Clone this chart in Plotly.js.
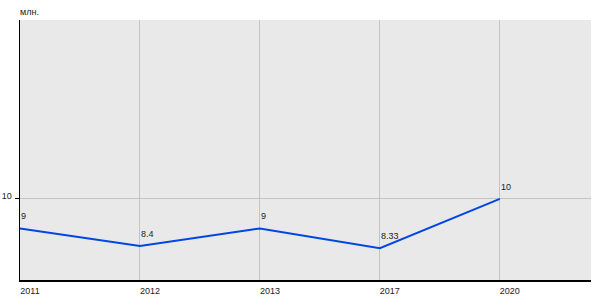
<!DOCTYPE html>
<html><head><meta charset="utf-8">
<script src="https://cdn.plot.ly/plotly-3.0.1.min.js"></script>
<style>html,body{margin:0;padding:0;background:#fff}#chart{width:600px;height:300px}</style>
</head><body><div id="chart"></div>
<script>
const years = ["2011", "2012", "2013", "2017", "2020"];
const values = [9, 8.4, 9, 8.33, 10];
const valueLabels = ["9", "8.4", "9", "8.33", "10"];
const unitLabel = "млн.";
const yTicks = [10];

const font = {family: "Liberation Sans, Arial, sans-serif", size: 9, color: "#1a1a1a"};

const trace = {
  x: years, y: values, type: "scatter", mode: "lines",
  line: {color: "#0046e0", width: 2},
  hoverinfo: "skip"
};

const valueAnnotations = years.map((yr, i) => ({
  x: i, y: values[i], xref: "x", yref: "y", text: valueLabels[i],
  xanchor: "left", yanchor: "bottom", xshift: -1, yshift: 5,
  showarrow: false, font: font
}));

const layout = {
  width: 600, height: 300,
  margin: {l: 20, r: 9, t: 20, b: 20},
  paper_bgcolor: "#ffffff", plot_bgcolor: "#e9e9e9",
  font: font, showlegend: false,
  xaxis: {
    type: "category", range: [0, 4.76],
    showgrid: true, gridcolor: "#c4c4c4", gridwidth: 1,
    showline: true, linecolor: "#000", linewidth: 1.5,
    ticks: "", tickfont: font, ticklabelshift: 10, ticklabelstandoff: 2,
    zeroline: false, fixedrange: true
  },
  yaxis: {
    range: [7.25, 16.07],
    tickvals: yTicks, ticktext: yTicks.map(String),
    showgrid: true, gridcolor: "#c4c4c4", gridwidth: 1,
    showline: true, linecolor: "#000", linewidth: 1.5,
    ticks: "outside", ticklen: 4, tickcolor: "#000",
    tickfont: font, ticklabelstandoff: 1, ticklabelshift: -3,
    zeroline: false, fixedrange: true
  },
  annotations: [{
    text: unitLabel, xref: "paper", yref: "paper", x: 0, y: 1,
    xanchor: "left", yanchor: "bottom", xshift: -2, yshift: 1,
    showarrow: false, font: font
  }].concat(valueAnnotations)
};

Plotly.newPlot("chart", [trace], layout, {displayModeBar: false, staticPlot: true});
</script></body></html>
